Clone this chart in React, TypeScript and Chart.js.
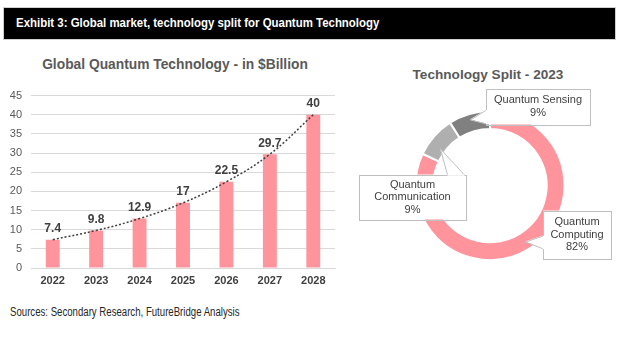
import React, { useEffect, useRef } from "react";
import { Chart, registerables } from "chart.js";

Chart.register(...registerables);

const years = ["2022", "2023", "2024", "2025", "2026", "2027", "2028"];
const marketValues = [7.4, 9.8, 12.9, 17, 22.5, 29.7, 40];
const trendValues = [7.4, 9.8, 12.9, 17, 22.5, 29.7, 40];
const yMin = 0;
const yMax = 45;
const yStep = 5;

const splitLabels = ["Quantum Computing", "Quantum Communication", "Quantum Sensing"];
const splitValues = [82, 9, 9];
const splitColors = ["#FF949C", "#AFAFAF", "#808080"];
const calloutLines = [
  ["Quantum", "Computing", "82%"],
  ["Quantum", "Communication", "9%"],
  ["Quantum Sensing", "9%"],
];

const FONT = "'Liberation Sans', Arial, sans-serif";

const barLabelPlugin = {
  id: "barLabels",
  afterDatasetsDraw(chart: any) {
    const meta = chart.getDatasetMeta(0);
    const ctx = chart.ctx;
    ctx.save();
    ctx.font = `bold 12px ${FONT}`;
    ctx.fillStyle = "#404040";
    ctx.textAlign = "center";
    ctx.textBaseline = "middle";
    meta.data.forEach((bar: any, i: number) => {
      ctx.fillText(String(marketValues[i]), bar.x, bar.y - 11);
    });
    ctx.restore();
  },
};

// callout geometry as offsets from the doughnut centre
const calloutBoxes = [
  { box: [53, 25, 68, 48], ptr: [[35, 56], [53, 50], [53, 63]] },
  { box: [-131, -11, 107, 45], ptr: [[-50, -37], [-43, -11], [-26, -11]] },
  { box: [-4, -97, 104, 36], ptr: [[-20, -66], [-4, -76], [-4, -62]] },
];

const calloutPlugin = {
  id: "callouts",
  afterDraw(chart: any) {
    const arc = chart.getDatasetMeta(0).data[0];
    if (!arc) return;
    const cx = arc.x;
    const cy = arc.y;
    const ctx = chart.ctx;
    ctx.save();
    calloutBoxes.forEach((c, i) => {
      const [bx, by, bw, bh] = c.box;
      const x = cx + bx;
      const y = cy + by;
      ctx.fillStyle = "#FFFFFF";
      ctx.strokeStyle = "#BFBFBF";
      ctx.lineWidth = 1;
      ctx.fillRect(x, y, bw, bh);
      const p = c.ptr;
      ctx.beginPath();
      ctx.moveTo(cx + p[1][0], cy + p[1][1]);
      ctx.lineTo(cx + p[0][0], cy + p[0][1]);
      ctx.lineTo(cx + p[2][0], cy + p[2][1]);
      ctx.closePath();
      ctx.fill();
      ctx.strokeRect(Math.round(x) + 0.5, Math.round(y) + 0.5, bw, bh);
      ctx.beginPath();
      ctx.moveTo(cx + p[1][0] + 0.5, cy + p[1][1] + 0.5);
      ctx.lineTo(cx + p[0][0] + 0.5, cy + p[0][1] + 0.5);
      ctx.lineTo(cx + p[2][0] + 0.5, cy + p[2][1] + 0.5);
      ctx.stroke();
      ctx.beginPath();
      ctx.moveTo(cx + p[1][0] + 0.5, cy + p[1][1] + 0.5);
      ctx.lineTo(cx + p[2][0] + 0.5, cy + p[2][1] + 0.5);
      ctx.strokeStyle = "#FFFFFF";
      ctx.lineWidth = 1.5;
      ctx.stroke();
      const lines = calloutLines[i];
      ctx.fillStyle = "#404040";
      ctx.font = `11px ${FONT}`;
      ctx.textAlign = "center";
      ctx.textBaseline = "middle";
      const lh = 12.5;
      const startY = y + bh / 2 - ((lines.length - 1) * lh) / 2;
      lines.forEach((t, k) => ctx.fillText(t, x + bw / 2, startY + k * lh));
    });
    ctx.restore();
  },
};

export default function App() {
  const barRef = useRef<HTMLCanvasElement>(null);
  const pieRef = useRef<HTMLCanvasElement>(null);

  useEffect(() => {
    const bar = new Chart(barRef.current!, {
      type: "bar",
      data: {
        labels: years,
        datasets: [
          {
            type: "line",
            label: "Trend",
            data: trendValues,
            borderColor: "#404040",
            borderWidth: 1.5,
            borderDash: [2, 2],
            pointRadius: 0,
            tension: 0.4,
            fill: false,
            order: 0,
          } as any,
          {
            type: "bar",
            label: "Global Quantum Technology",
            data: marketValues,
            backgroundColor: "#FF949C",
            borderWidth: 0,
            barPercentage: 0.32,
            categoryPercentage: 1,
            order: 1,
          },
        ],
      },
      options: {
        responsive: false,
        animation: false,
        devicePixelRatio: 1,
        layout: { padding: { left: 0, right: 10, top: 7, bottom: 0 } },
        plugins: { legend: { display: false }, tooltip: { enabled: false } },
        scales: {
          x: {
            grid: { display: false, drawTicks: false },
            border: { display: true, color: "#D9D9D9" },
            ticks: { font: { family: FONT, size: 11, weight: "bold" }, color: "#404040", padding: 6 },
            afterFit: (s: any) => { s.height = 27; },
          },
          y: {
            min: yMin,
            max: yMax,
            grid: { color: "#D9D9D9", drawTicks: false },
            border: { display: false },
            ticks: { stepSize: yStep, font: { family: FONT, size: 11 }, color: "#595959", padding: 9 },
            afterFit: (s: any) => { s.width = 31; },
          },
        },
      },
      plugins: [barLabelPlugin],
    });

    const pie = new Chart(pieRef.current!, {
      type: "doughnut",
      data: {
        labels: splitLabels,
        datasets: [
          {
            data: splitValues,
            backgroundColor: splitColors,
            borderColor: "#FFFFFF",
            borderWidth: 2,
          },
        ],
      },
      options: {
        responsive: false,
        animation: false,
        devicePixelRatio: 1,
        cutout: "76%",
        layout: { padding: { left: 69, right: 58, top: 30, bottom: 34 } },
        plugins: { legend: { display: false }, tooltip: { enabled: false } },
      },
      plugins: [calloutPlugin],
    });

    return () => {
      bar.destroy();
      pie.destroy();
    };
  }, []);

  return (
    <div style={{ position: "absolute", left: 0, top: 0, width: 624, height: 341, background: "#fff", overflow: "hidden" }}>
      <div
        style={{
          position: "absolute",
          left: 3,
          top: 7,
          width: 611,
          height: 31,
          background: "#000",
          border: "1px solid #D0D0D0",
        }}
      />
      <div
        style={{
          position: "absolute",
          left: 16,
          top: 15,
          color: "#fff",
          fontFamily: FONT,
          fontWeight: "bold",
          fontSize: 13,
          lineHeight: "16px",
          whiteSpace: "nowrap",
          transform: "scaleX(0.88)",
          transformOrigin: "0 0",
        }}
      >
        Exhibit 3: Global market, technology split for Quantum Technology
      </div>
      <div
        style={{
          position: "absolute",
          left: 0,
          width: 350,
          top: 56,
          textAlign: "center",
          color: "#595959",
          fontFamily: FONT,
          fontWeight: "bold",
          fontSize: 13.8,
          lineHeight: "18px",
          whiteSpace: "nowrap",
        }}
      >
        Global Quantum Technology - in $Billion
      </div>
      <div
        style={{
          position: "absolute",
          left: 388,
          width: 200,
          top: 66,
          textAlign: "center",
          color: "#595959",
          fontFamily: FONT,
          fontWeight: "bold",
          fontSize: 13.6,
          lineHeight: "17px",
          whiteSpace: "nowrap",
        }}
      >
        Technology Split - 2023
      </div>
      <canvas ref={barRef} width={345} height={215} style={{ position: "absolute", left: 0, top: 80, width: 345, height: 215 }} />
      <canvas ref={pieRef} width={279} height={215} style={{ position: "absolute", left: 345, top: 80, width: 279, height: 215 }} />
      <div
        style={{
          position: "absolute",
          left: 10,
          top: 304,
          color: "#262626",
          fontFamily: FONT,
          fontSize: 12.5,
          lineHeight: "16px",
          whiteSpace: "nowrap",
          transform: "scaleX(0.77)",
          transformOrigin: "0 0",
        }}
      >
        Sources: Secondary Research, FutureBridge Analysis
      </div>
    </div>
  );
}
